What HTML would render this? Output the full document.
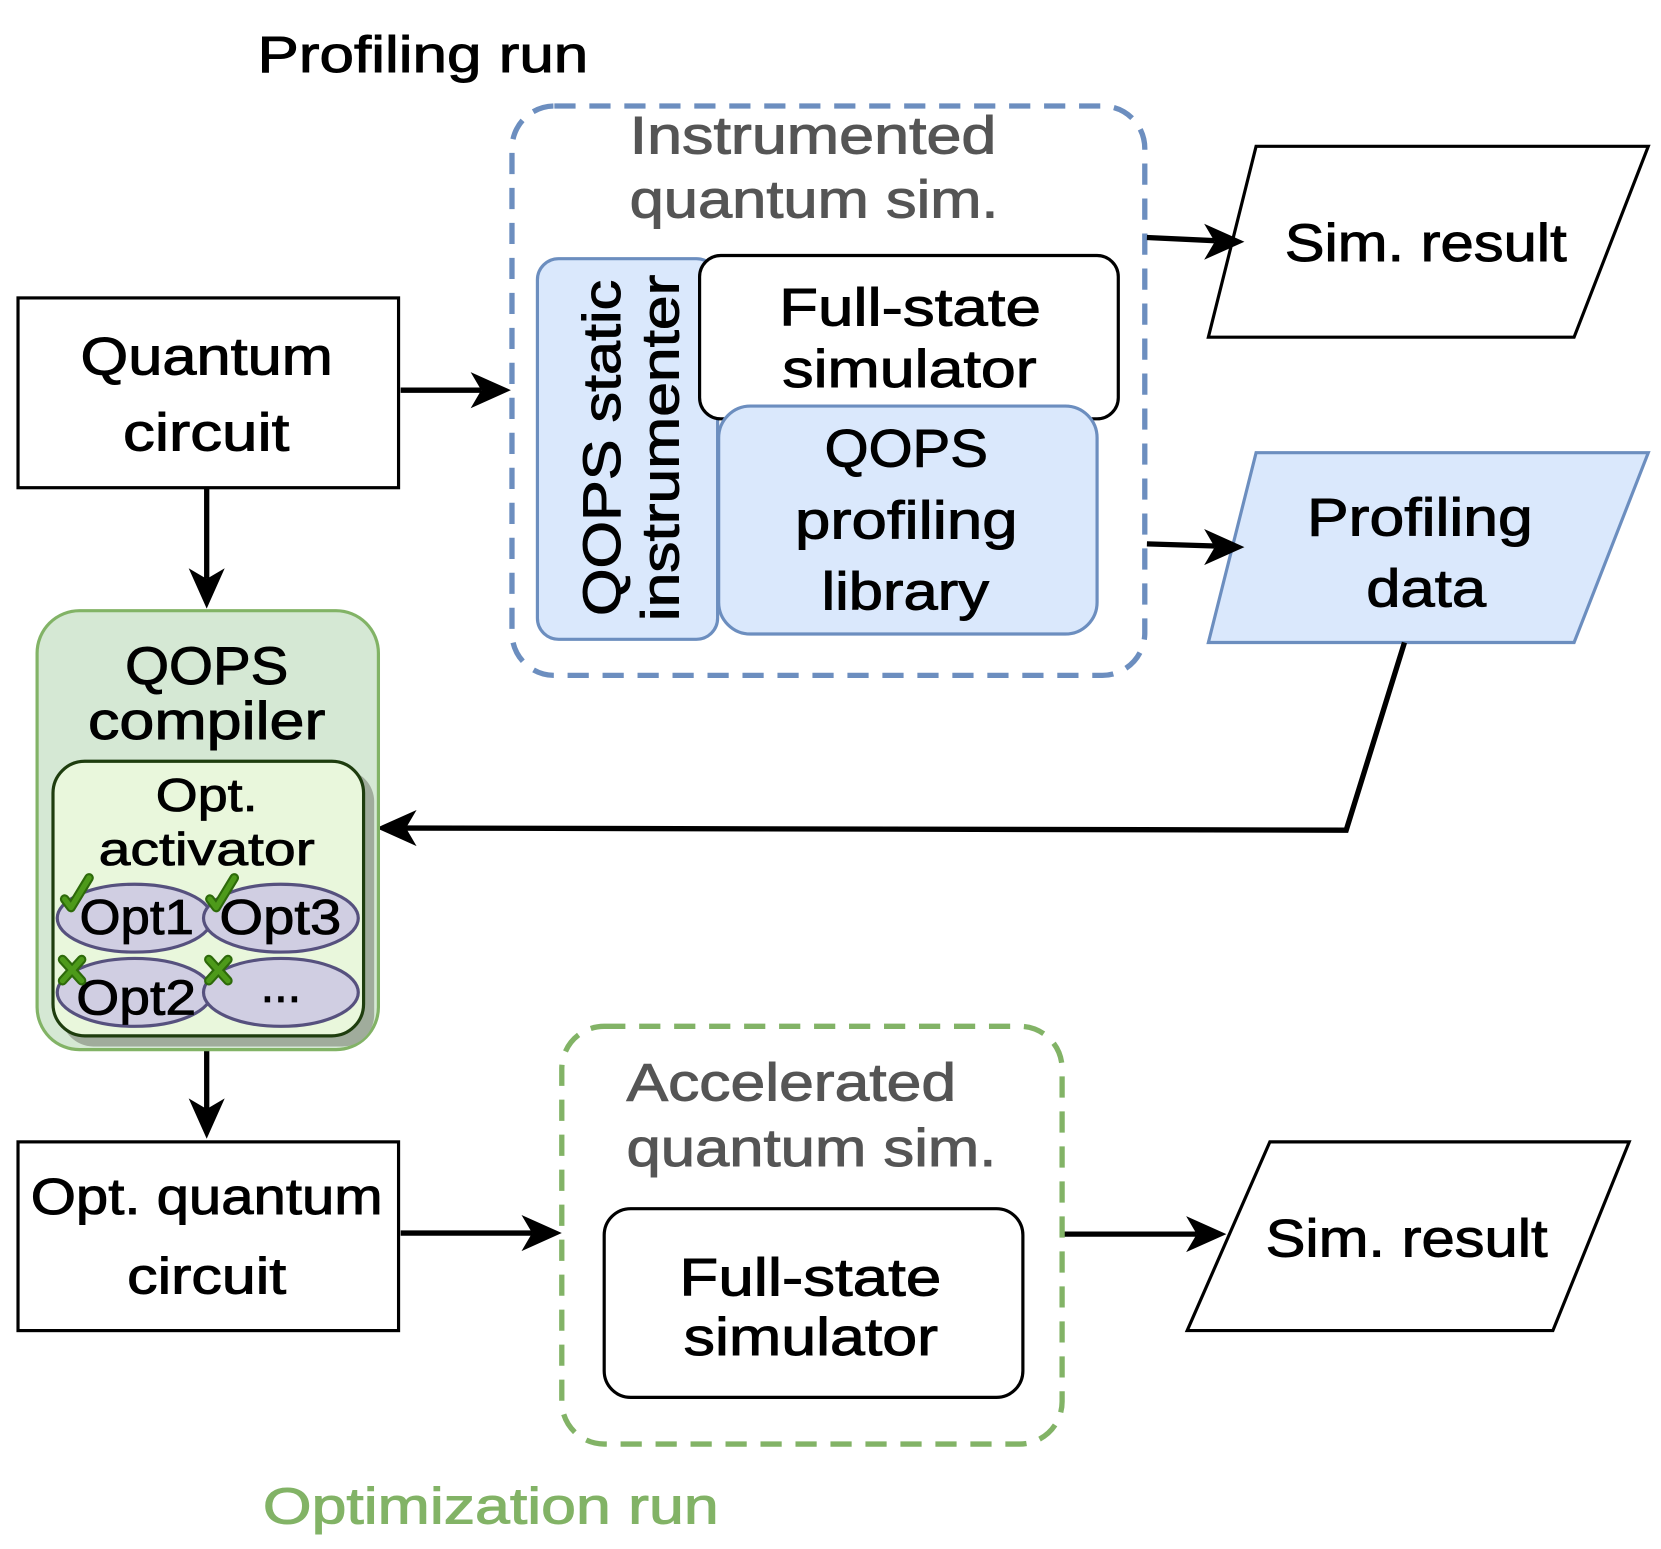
<!DOCTYPE html>
<html><head><meta charset="utf-8"><style>html,body{margin:0;padding:0;background:#fff}svg{display:block}</style></head>
<body>
<svg width="1661" height="1549" viewBox="0 0 1567 1461" preserveAspectRatio="none" xmlns="http://www.w3.org/2000/svg" font-family="Liberation Sans, DejaVu Sans, sans-serif">
<g stroke-width="0.9" lengthAdjust="spacingAndGlyphs">
<text x="243" y="68" font-size="48" stroke="#000" textLength="312" lengthAdjust="spacingAndGlyphs">Profiling run</text>
</g>
<rect x="483" y="100" width="597" height="537" rx="40" fill="none" stroke="#6c8ebf" stroke-width="5" stroke-dasharray="20 13"/>
<g fill="#555" stroke="#555" stroke-width="0.9" font-size="50">
<text x="594" y="145" textLength="346" lengthAdjust="spacingAndGlyphs">Instrumented</text>
<text x="594" y="205" textLength="348" lengthAdjust="spacingAndGlyphs">quantum sim.</text></g>
<rect x="507" y="244" width="170" height="359" rx="20" fill="#dae8fc" stroke="#6c8ebf" stroke-width="3"/>
<g font-size="50" stroke="#000" stroke-width="0.9" transform="translate(592,423) rotate(-90)">
<text x="-158" y="-7" textLength="317" lengthAdjust="spacingAndGlyphs">QOPS static</text>
<text x="-163" y="48" textLength="327" lengthAdjust="spacingAndGlyphs">instrumenter</text></g>
<rect x="660" y="241" width="395" height="154" rx="20" fill="#fff" stroke="#000" stroke-width="3"/>
<g font-size="50" stroke="#000" stroke-width="0.9">
<text x="735" y="307" textLength="247" lengthAdjust="spacingAndGlyphs">Full-state</text>
<text x="738" y="365" textLength="240" lengthAdjust="spacingAndGlyphs">simulator</text></g>
<rect x="678" y="383" width="357" height="215" rx="30" fill="#dae8fc" stroke="#6c8ebf" stroke-width="3"/>
<g font-size="50" stroke="#000" stroke-width="0.9">
<text x="778" y="440" textLength="154" lengthAdjust="spacingAndGlyphs">QOPS</text>
<text x="750" y="508" textLength="210" lengthAdjust="spacingAndGlyphs">profiling</text>
<text x="775" y="575" textLength="158" lengthAdjust="spacingAndGlyphs">library</text></g>
<polygon points="1185,138 1555,138 1485,318 1140,318" fill="#fff" stroke="#000" stroke-width="3"/>
<text x="1212" y="246" font-size="50" stroke="#000" stroke-width="0.9" textLength="266" lengthAdjust="spacingAndGlyphs">Sim. result</text>
<polygon points="1185,427 1555,427 1485,606 1140,606" fill="#dae8fc" stroke="#6c8ebf" stroke-width="3"/>
<g font-size="50" stroke="#000" stroke-width="0.9">
<text x="1233" y="505" textLength="213" lengthAdjust="spacingAndGlyphs">Profiling</text>
<text x="1289" y="572" textLength="113" lengthAdjust="spacingAndGlyphs">data</text></g>
<g stroke="#000" stroke-width="5" fill="none">
<line x1="1082" y1="224" x2="1146" y2="227"/>
<line x1="1082" y1="513" x2="1146" y2="515"/>
<line x1="378" y1="368" x2="454" y2="368"/>
<line x1="195" y1="460" x2="195" y2="546"/>
<polyline points="1325,606 1270,783 383,781"/>
<line x1="195" y1="990" x2="195" y2="1046"/>
<line x1="378" y1="1163" x2="502" y2="1163"/>
<line x1="1002" y1="1164" x2="1129" y2="1164"/>
</g>
<g fill="#000">
<polygon points="1174,228 1136,211 1146,228 1136,245"/>
<polygon points="1174,516 1136,499 1146,516 1136,533"/>
<polygon points="482,368 444,351 454,368 444,385"/>
<polygon points="195,574 178,536 195,546 212,536"/>
<polygon points="355,781 393,764 383,781 393,798"/>
<polygon points="195,1074 178,1036 195,1046 212,1036"/>
<polygon points="530,1163 492,1146 502,1163 492,1180"/>
<polygon points="1157,1164 1119,1147 1129,1164 1119,1181"/>
</g>
<rect x="17" y="281" width="359" height="179" fill="#fff" stroke="#000" stroke-width="3"/>
<g font-size="50" stroke="#000" stroke-width="0.9">
<text x="76" y="353" textLength="238" lengthAdjust="spacingAndGlyphs">Quantum</text>
<text x="116" y="425" textLength="157" lengthAdjust="spacingAndGlyphs">circuit</text></g>
<rect x="35" y="576" width="322" height="414" rx="40" fill="#d5e8d4" stroke="#82b366" stroke-width="3"/>
<g font-size="50" stroke="#000" stroke-width="0.9">
<text x="118" y="645" textLength="154" lengthAdjust="spacingAndGlyphs">QOPS</text>
<text x="83" y="697" textLength="224" lengthAdjust="spacingAndGlyphs">compiler</text></g>
<rect x="58" y="726" width="295" height="261" rx="30" fill="#a0ac9c"/>
<rect x="50" y="718" width="293" height="259" rx="30" fill="#e9f7dc" stroke="#1e3d0e" stroke-width="3"/>
<g font-size="44" stroke="#000" stroke-width="0.8">
<text x="147" y="765" textLength="96" lengthAdjust="spacingAndGlyphs">Opt.</text>
<text x="93" y="816" textLength="204" lengthAdjust="spacingAndGlyphs">activator</text></g>
<g fill="#d0cee2" stroke="#56517e" stroke-width="3">
<ellipse cx="127" cy="866" rx="73" ry="32"/><ellipse cx="265" cy="866" rx="73" ry="32"/>
<ellipse cx="127" cy="936" rx="73" ry="32"/><ellipse cx="265" cy="936" rx="73" ry="32"/>
</g>
<g font-size="46" stroke="#000" stroke-width="0.8">
<text x="75" y="881" textLength="108" lengthAdjust="spacingAndGlyphs">Opt1</text>
<text x="207" y="881" textLength="115" lengthAdjust="spacingAndGlyphs">Opt3</text>
<text x="72" y="957" textLength="113" lengthAdjust="spacingAndGlyphs">Opt2</text>
<text x="265" y="945" text-anchor="middle">...</text></g>
<g fill="none" stroke-linecap="round" stroke-linejoin="round">
<g stroke="#2d6a0a" stroke-width="9">
<path d="M61,848 L67,856 L84,828"/><path d="M198,848 L204,856 L221,828"/>
<path d="M59,905 L77,925 M77,905 L59,925"/><path d="M197,905 L215,925 M215,905 L197,925"/></g>
<g stroke="#4d9a1a" stroke-width="5">
<path d="M61,848 L67,856 L84,828"/><path d="M198,848 L204,856 L221,828"/>
<path d="M59,905 L77,925 M77,905 L59,925"/><path d="M197,905 L215,925 M215,905 L197,925"/></g>
</g>
<rect x="17" y="1077" width="359" height="178" fill="#fff" stroke="#000" stroke-width="3"/>
<g font-size="48" stroke="#000" stroke-width="0.9">
<text x="29" y="1145" textLength="332" lengthAdjust="spacingAndGlyphs">Opt. quantum</text>
<text x="120" y="1220" textLength="150" lengthAdjust="spacingAndGlyphs">circuit</text></g>
<rect x="530" y="968" width="472" height="394" rx="40" fill="none" stroke="#82b366" stroke-width="5" stroke-dasharray="20 13"/>
<g fill="#555" stroke="#555" stroke-width="0.9" font-size="50">
<text x="591" y="1038" textLength="311" lengthAdjust="spacingAndGlyphs">Accelerated</text>
<text x="591" y="1100" textLength="349" lengthAdjust="spacingAndGlyphs">quantum sim.</text></g>
<rect x="570" y="1140" width="395" height="178" rx="25" fill="#fff" stroke="#000" stroke-width="3"/>
<g font-size="50" stroke="#000" stroke-width="0.9">
<text x="641" y="1222" textLength="247" lengthAdjust="spacingAndGlyphs">Full-state</text>
<text x="645" y="1278" textLength="240" lengthAdjust="spacingAndGlyphs">simulator</text></g>
<polygon points="1198,1077 1537,1077 1465,1255 1120,1255" fill="#fff" stroke="#000" stroke-width="3"/>
<text x="1194" y="1185" font-size="50" stroke="#000" stroke-width="0.9" textLength="266" lengthAdjust="spacingAndGlyphs">Sim. result</text>
<text x="248" y="1437" font-size="48" fill="#82b366" stroke="#82b366" stroke-width="0.9" textLength="430" lengthAdjust="spacingAndGlyphs">Optimization run</text>
</svg>
</body></html>
